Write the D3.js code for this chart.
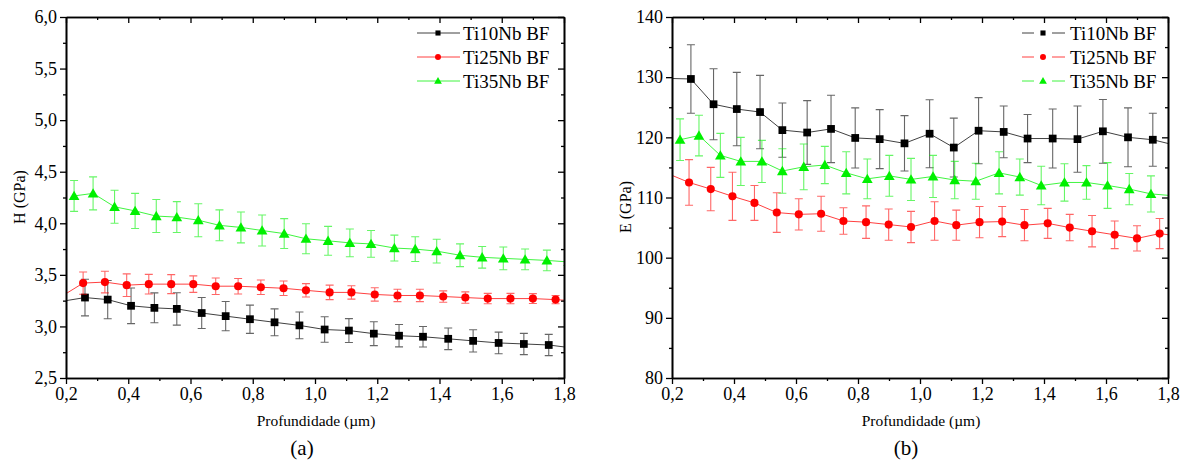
<!DOCTYPE html>
<html>
<head>
<meta charset="utf-8">
<script src="https://cdn.jsdelivr.net/npm/d3@7"></script>
<style>
  html, body { margin: 0; padding: 0; background: #fff; }
  svg, svg text { font-family: 'Liberation Serif', 'DejaVu Serif', serif; }
  svg { display: block; }
</style>
</head>
<body>
<svg id="chart" width="1187" height="467"></svg>
<script>
// Depth (µm) of each indentation step, per alloy
const depthTi10 = [0.180, 0.261, 0.334, 0.409, 0.484, 0.556, 0.636, 0.713, 0.791, 0.870, 0.950, 1.031, 1.109, 1.189, 1.270, 1.347, 1.428, 1.508, 1.590, 1.671, 1.751, 1.830];
const depthTi25 = [0.185, 0.255, 0.325, 0.395, 0.466, 0.538, 0.609, 0.681, 0.753, 0.826, 0.899, 0.971, 1.047, 1.117, 1.192, 1.265, 1.337, 1.412, 1.483, 1.555, 1.628, 1.700, 1.773, 1.845];
const depthTi35 = [0.226, 0.287, 0.356, 0.422, 0.490, 0.556, 0.625, 0.693, 0.762, 0.830, 0.901, 0.971, 1.042, 1.112, 1.180, 1.255, 1.322, 1.391, 1.466, 1.537, 1.605, 1.675, 1.745, 1.815];

// Hardness H (GPa) and standard deviation
const hTi10    = [3.24, 3.28, 3.26, 3.20, 3.18, 3.17, 3.13, 3.10, 3.07, 3.04, 3.01, 2.97, 2.96, 2.93, 2.91, 2.90, 2.88, 2.86, 2.84, 2.83, 2.82, 2.79];
const hTi10Err = [0.18, 0.178, 0.186, 0.173, 0.145, 0.157, 0.15, 0.142, 0.137, 0.13, 0.13, 0.124, 0.116, 0.116, 0.108, 0.10, 0.105, 0.108, 0.105, 0.103, 0.103, 0.10];
const hTi25    = [3.29, 3.42, 3.43, 3.40, 3.41, 3.41, 3.41, 3.39, 3.39, 3.38, 3.37, 3.35, 3.33, 3.33, 3.31, 3.30, 3.30, 3.29, 3.28, 3.27, 3.27, 3.27, 3.26, 3.245];
const hTi25Err = [0.11, 0.108, 0.105, 0.11, 0.095, 0.092, 0.08, 0.08, 0.075, 0.07, 0.07, 0.065, 0.07, 0.065, 0.065, 0.06, 0.06, 0.055, 0.055, 0.05, 0.05, 0.048, 0.04, 0.04];
const hTi35    = [4.265, 4.29, 4.16, 4.12, 4.07, 4.06, 4.03, 3.98, 3.96, 3.93, 3.90, 3.85, 3.83, 3.81, 3.80, 3.76, 3.75, 3.73, 3.69, 3.67, 3.66, 3.65, 3.64, 3.625];
const hTi35Err = [0.15, 0.16, 0.16, 0.17, 0.16, 0.15, 0.16, 0.15, 0.15, 0.15, 0.145, 0.145, 0.14, 0.135, 0.13, 0.125, 0.12, 0.115, 0.11, 0.105, 0.11, 0.10, 0.10, 0.10];

// Elastic modulus E (GPa) and standard deviation
const eTi10    = [129.8, 129.7, 125.5, 124.7, 124.2, 121.2, 120.8, 121.4, 119.9, 119.7, 119.0, 120.6, 118.3, 121.1, 120.9, 119.8, 119.8, 119.7, 121.0, 120.0, 119.6, 118.6];
const eTi10Err = [5.8, 5.7, 5.9, 6.1, 6.1, 4.5, 5.3, 5.6, 5.0, 4.9, 4.6, 5.65, 4.9, 5.5, 4.3, 4.0, 4.9, 5.5, 5.3, 4.9, 4.4, 4.5];
const eTi25    = [114.0, 112.5, 111.4, 110.2, 109.1, 107.5, 107.2, 107.3, 106.1, 105.9, 105.5, 105.1, 106.1, 105.4, 105.9, 106.0, 105.4, 105.7, 105.0, 104.4, 103.8, 103.2, 104.0, 103.5];
const eTi25Err = [3.8, 3.8, 3.6, 4.0, 2.9, 3.3, 2.6, 2.9, 2.2, 2.7, 2.6, 2.6, 3.2, 2.5, 2.6, 2.5, 2.6, 2.5, 2.2, 2.6, 2.3, 2.1, 2.5, 2.4];
const eTi35    = [119.6, 120.3, 117.0, 116.0, 116.0, 114.4, 115.1, 115.4, 114.1, 113.1, 113.6, 113.0, 113.5, 112.9, 112.7, 114.1, 113.4, 112.0, 112.5, 112.5, 112.0, 111.4, 110.6, 110.3];
const eTi35Err = [3.46, 3.38, 3.66, 4.0, 3.5, 3.7, 3.8, 3.1, 3.5, 3.3, 3.4, 3.5, 3.5, 3.1, 3.0, 3.5, 3.0, 3.2, 3.1, 2.8, 3.8, 2.6, 3.0, 3.0];

// Legend names and tick values
const seriesNames = ["Ti10Nb BF", "Ti25Nb BF", "Ti35Nb BF"];
const xMajorTicks = [0.2, 0.4, 0.6, 0.8, 1.0, 1.2, 1.4, 1.6, 1.8];
const xMinorTicks = [0.3, 0.5, 0.7, 0.9, 1.1, 1.3, 1.5, 1.7];
const hMajorTicks = [2.5, 3.0, 3.5, 4.0, 4.5, 5.0, 5.5, 6.0];
const hMinorTicks = [2.75, 3.25, 3.75, 4.25, 4.75, 5.25, 5.75];
const eMajorTicks = [80, 90, 100, 110, 120, 130, 140];
const eMinorTicks = [85, 95, 105, 115, 125, 135];

const FONT = "'Liberation Serif', 'DejaVu Serif', serif";
const colors = ["#000000", "#ff0000", "#00f000"];
const shapes = [d3.symbolSquare, d3.symbolCircle, d3.symbolTriangle];
const markSize = [60, 52, 50];
const legendMarkSize = [26, 28, 26];

const svg = d3.select("#chart");
const comma1 = v => d3.format(".1f")(v).replace(".", ",");

function drawPanel(p) {
  const x = d3.scaleLinear().domain([0.2, 1.8]).range([p.left, p.right]);
  const y = d3.scaleLinear().domain(p.yDomain).range([p.bottom, p.top]);
  const g = svg.append("g").attr("font-family", FONT);

  const clipId = "clip-" + p.id;
  svg.append("clipPath").attr("id", clipId).append("rect")
    .attr("x", p.left).attr("y", p.top)
    .attr("width", p.right - p.left).attr("height", p.bottom - p.top);

  const plot = g.append("g").attr("clip-path", `url(#${clipId})`);

  p.series.forEach((s, i) => {
    const pts = s.depth.map((d, k) => ({ x: d, y: s.values[k], e: s.errors[k] }));
    const sg = plot.append("g");

    // error bars
    const eb = sg.append("g").attr("stroke", colors[i]).attr("stroke-opacity", 0.6).attr("stroke-width", 1.1).attr("fill", "none");
    eb.selectAll("path").data(pts).join("path")
      .attr("d", d => {
        const cx = x(d.x), y0 = y(d.y - d.e), y1 = y(d.y + d.e), w = 4;
        return `M${cx},${y0}V${y1}M${cx - w},${y1}H${cx + w}M${cx - w},${y0}H${cx + w}`;
      });

    // connecting line
    sg.append("path").datum(pts)
      .attr("fill", "none").attr("stroke", colors[i]).attr("stroke-opacity", 0.75).attr("stroke-width", 1)
      .attr("d", d3.line().x(d => x(d.x)).y(d => y(d.y)));

    // markers
    sg.selectAll(".m").data(pts).join("path").attr("class", "m")
      .attr("transform", d => `translate(${x(d.x)},${y(d.y) + (i === 2 ? 1 : 0)})`)
      .attr("d", d3.symbol().type(shapes[i]).size(markSize[i]))
      .attr("fill", colors[i]);
  });

  // axes
  const axStroke = sel => {
    sel.attr("font-family", FONT);
    sel.select(".domain").attr("stroke", "#000").attr("stroke-width", 1.6);
    sel.selectAll(".tick line").attr("stroke", "#000").attr("stroke-width", 1.3);
    sel.selectAll(".tick text").attr("fill", "#000").attr("font-size", 18).attr("font-family", FONT);
  };

  g.append("g").attr("transform", `translate(0,${p.bottom})`)
    .call(d3.axisBottom(x).tickValues(xMinorTicks).tickSize(3).tickSizeOuter(0).tickFormat(""))
    .call(axStroke);
  g.append("g").attr("transform", `translate(0,${p.bottom})`)
    .call(d3.axisBottom(x).tickValues(xMajorTicks).tickSize(6).tickSizeOuter(0).tickPadding(3).tickFormat(comma1))
    .call(axStroke);
  g.append("g").attr("transform", `translate(0,${p.top})`)
    .call(d3.axisTop(x).tickValues(xMinorTicks).tickSize(-3).tickSizeOuter(0).tickFormat(""))
    .call(axStroke);
  g.append("g").attr("transform", `translate(0,${p.top})`)
    .call(d3.axisTop(x).tickValues(xMajorTicks).tickSize(-6).tickSizeOuter(0).tickFormat(""))
    .call(axStroke);

  g.append("g").attr("transform", `translate(${p.left},0)`)
    .call(d3.axisLeft(y).tickValues(p.yMinor).tickSize(3).tickSizeOuter(0).tickFormat(""))
    .call(axStroke);
  g.append("g").attr("transform", `translate(${p.left},0)`)
    .call(d3.axisLeft(y).tickValues(p.yMajor).tickSize(6).tickSizeOuter(0).tickPadding(3).tickFormat(p.yFormat))
    .call(axStroke);
  g.append("g").attr("transform", `translate(${p.right},0)`)
    .call(d3.axisRight(y).tickValues(p.yMinor).tickSize(-3).tickSizeOuter(0).tickFormat(""))
    .call(axStroke);
  g.append("g").attr("transform", `translate(${p.right},0)`)
    .call(d3.axisRight(y).tickValues(p.yMajor).tickSize(-6).tickSizeOuter(0).tickFormat(""))
    .call(axStroke);

  // titles
  g.append("text")
    .attr("transform", `translate(${p.yTitleX},${p.yTitleY}) rotate(-90)`)
    .attr("text-anchor", "middle").attr("dominant-baseline", "central")
    .attr("font-size", 16).text(p.yTitle);
  g.append("text")
    .attr("x", (p.left + p.right) / 2 + 1).attr("y", 420)
    .attr("text-anchor", "middle").attr("dominant-baseline", "central")
    .attr("font-size", 15.5).text("Profundidade (\u00b5m)");
  g.append("text")
    .attr("x", p.tagX).attr("y", 448)
    .attr("text-anchor", "middle").attr("dominant-baseline", "central")
    .attr("font-size", 21).text(p.tag);

  // legend
  const lg = g.append("g");
  seriesNames.forEach((name, i) => {
    const ry = p.legendRows[i];
    const row = lg.append("g");
    if (p.legendGap) {
      row.append("path").attr("d", `M${p.legendX0},${ry}H${p.legendMid - 9}M${p.legendMid + 9},${ry}H${p.legendX1}`)
        .attr("stroke", colors[i]).attr("stroke-opacity", 0.75).attr("stroke-width", 1);
    } else {
      row.append("path").attr("d", `M${p.legendX0},${ry}H${p.legendX1}`)
        .attr("stroke", colors[i]).attr("stroke-opacity", 0.75).attr("stroke-width", 1);
    }
    row.append("path")
      .attr("transform", `translate(${p.legendMid},${ry + (i === 2 ? 0.5 : 0)})`)
      .attr("d", d3.symbol().type(shapes[i]).size(legendMarkSize[i]))
      .attr("fill", colors[i]);
    row.append("text").attr("x", p.legendText).attr("y", ry)
      .attr("dominant-baseline", "central").attr("font-size", 19).text(name);
  });
}

drawPanel({
  id: "h", left: 66, right: 564, top: 17, bottom: 378,
  yDomain: [2.5, 6.0], yMajor: hMajorTicks, yMinor: hMinorTicks, yFormat: comma1,
  yTitle: "H (GPa)", yTitleX: 19, yTitleY: 197,
  tag: "(a)", tagX: 302,
  legendX0: 417, legendX1: 460, legendMid: 438, legendText: 463, legendRows: [33, 57, 81], legendGap: false,
  series: [
    { depth: depthTi10, values: hTi10, errors: hTi10Err },
    { depth: depthTi25, values: hTi25, errors: hTi25Err },
    { depth: depthTi35, values: hTi35, errors: hTi35Err }
  ]
});

drawPanel({
  id: "e", left: 672, right: 1168, top: 17, bottom: 378,
  yDomain: [80, 140], yMajor: eMajorTicks, yMinor: eMinorTicks, yFormat: d3.format("d"),
  yTitle: "E (GPa)", yTitleX: 625, yTitleY: 207,
  tag: "(b)", tagX: 906,
  legendX0: 1022, legendX1: 1065, legendMid: 1043, legendText: 1070, legendRows: [33, 57, 81], legendGap: true,
  series: [
    { depth: depthTi10, values: eTi10, errors: eTi10Err },
    { depth: depthTi25, values: eTi25, errors: eTi25Err },
    { depth: depthTi35, values: eTi35, errors: eTi35Err }
  ]
});
</script>
</body>
</html>
